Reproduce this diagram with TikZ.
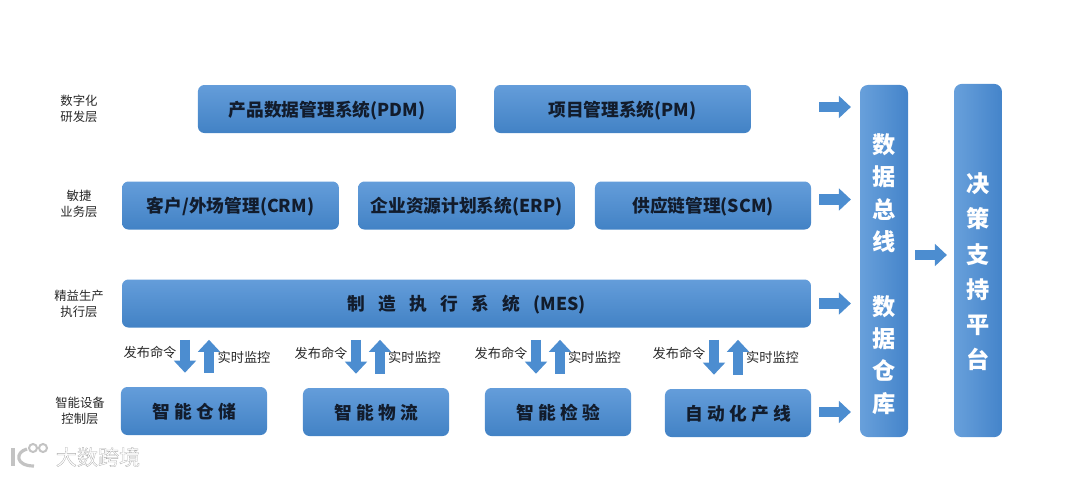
\documentclass[tikz,border=0pt]{standalone}
\usepackage{fontspec}
\setmainfont{Noto Sans CJK SC}
\newfontfamily\markfont[FakeBold=1.4]{Noto Sans CJK SC}
\usepackage{xcolor}
\usepackage{tikz}
\usetikzlibrary{arrows.meta,positioning,calc}
\definecolor{boxtop}{RGB}{100,157,218}
\definecolor{boxbot}{RGB}{66,130,197}
\definecolor{busleft}{RGB}{104,160,219}
\definecolor{busright}{RGB}{68,132,202}
\definecolor{flowblue}{RGB}{76,141,208}
\definecolor{inkblack}{RGB}{18,28,44}
\definecolor{labelgray}{RGB}{40,40,40}
\definecolor{markgray}{RGB}{195,195,195}

\begin{document}
\begin{tikzpicture}[x=0.025cm, y=-0.025cm,
        sysbox/.style={rectangle, rounded corners=0.16cm, inner sep=0pt, top color=boxtop, bottom color=boxbot, minimum height=1.2cm, text height=0.41cm, text depth=0.05cm, align=center, text=inkblack, font=\fontsize{12.6}{15}\selectfont\bfseries},
        busbox/.style={rectangle, rounded corners=0.2cm, inner sep=0pt, left color=busleft, right color=busright, minimum width=1.2cm, align=center, text=white, font=\fontsize{16.5}{23}\selectfont\bfseries},
        layer/.style={align=center, inner sep=0pt, text=labelgray, font=\fontsize{8.8}{11.3}\selectfont},
        tag/.style={inner sep=0pt, text=labelgray, font=\fontsize{9.4}{11}\selectfont},
        flow/.style={draw=flowblue, line width=0.27cm, -{Triangle[length=0.3cm, width=0.54cm]}}]

        \useasboundingbox (0,0) rectangle (1080,476);

        % Nodes
        \node[layer] (lay1) at (79,109) {数字化\\研发层};
        \node[layer] (lay2) at (79,204) {敏捷\\业务层};
        \node[layer] (lay3) at (79,304) {精益生产\\执行层};
        \node[layer] (lay4) at (80,411) {智能设备\\控制层};

        \node[sysbox, minimum width=6.45cm] (pdm) at (327,109) {产品数据管理系统(PDM)};
        \node[sysbox, minimum width=6.42cm] (pm) at (622.5,109) {项目管理系统(PM)};
        \node[sysbox, minimum width=5.42cm] (crm) at (230.5,205.5) {客户/外场管理(CRM)};
        \node[sysbox, minimum width=5.42cm] (erp) at (466.5,205.5) {企业资源计划系统(ERP)};
        \node[sysbox, minimum width=5.4cm] (scm) at (703,205.5) {供应链管理(SCM)};
        \node[sysbox, minimum width=17.22cm] (mes) at (466.5,303.5) {制\hspace{0.75em}造\hspace{0.75em}执\hspace{0.75em}行\hspace{0.75em}系\hspace{0.75em}统\hspace{0.75em}(MES)};
        \node[sysbox, minimum width=3.65cm] (store) at (194,411) {智\hspace{0.24em}能\hspace{0.24em}仓\hspace{0.24em}储};
        \node[sysbox, minimum width=3.65cm] (logi) at (376,412) {智\hspace{0.24em}能\hspace{0.24em}物\hspace{0.24em}流};
        \node[sysbox, minimum width=3.65cm] (check) at (558,412) {智\hspace{0.24em}能\hspace{0.24em}检\hspace{0.24em}验};
        \node[sysbox, minimum width=3.65cm] (line) at (738,413) {自\hspace{0.24em}动\hspace{0.24em}化\hspace{0.24em}产\hspace{0.24em}线};

        \node[busbox, minimum height=8.8cm] (bus) at (884,261) {\mbox{}\\[0.34cm]数\\据\\总\\线\\ \\数\\据\\仓\\库};
        \node[busbox, minimum height=8.83cm, font=\fontsize{16.5}{25}\selectfont\bfseries] (dss) at (978,260.5) {\mbox{}\\[0.18cm]决\\策\\支\\持\\平\\台};

        \node[tag] (cmd1) at (150,352) {发布命令};
        \node[tag] (mon1) at (244,357) {实时监控};
        \node[tag] (cmd2) at (321,353) {发布命令};
        \node[tag] (mon2) at (414.5,357) {实时监控};
        \node[tag] (cmd3) at (501,353) {发布命令};
        \node[tag] (mon3) at (594.5,357) {实时监控};
        \node[tag] (cmd4) at (679,353) {发布命令};
        \node[tag] (mon4) at (772.5,357) {实时监控};

        % Watermark
        \node[inner sep=0pt, text=white, font=\fontsize{15}{15}\selectfont\markfont] (mark) at (98,457) {\special{pdf:code 0.68 G}大数跨境};
        \draw[markgray, line width=0.08cm] (13,448) -- (13,466);
        \draw[markgray, line width=0.08cm] (27,449) .. controls (15,452) and (15,466) .. (34,466);
        \draw[markgray, line width=0.05cm] (33,448) circle (4);
        \draw[markgray, line width=0.05cm] (43,448) circle (4);

        % Connections
        \draw[flow, shorten <=1.7cm, shorten >=0.22cm] ($(pm.east)+(0,-2)$) -- ($(pm.east -| bus.west)+(0,-2)$);
        \draw[flow, shorten <=0.2cm, shorten >=0.22cm] ($(scm.east)+(0,-6)$) -- ($(scm.east -| bus.west)+(0,-6)$);
        \draw[flow, shorten <=0.2cm, shorten >=0.22cm] (mes.east) -- (mes.east -| bus.west);
        \draw[flow, shorten <=0.2cm, shorten >=0.22cm] ($(line.east)+(0,-1)$) -- ($(line.east -| bus.west)+(0,-1)$);
        \draw[flow, shorten <=0.17cm, shorten >=0.17cm] ($(bus.east)+(0,-6)$) -- ($(dss.west)+(0,-5.5)$);

        \foreach \boxname/\dn/\up in {store/185/209, logi/356/380, check/536/560, line/714/738} {
            \draw[flow, shorten <=0.3cm, shorten >=0.35cm] (mes.south -| \dn,0) -- (\boxname.north -| \dn,0);
            \draw[flow, shorten <=0.35cm, shorten >=0.3cm] (\boxname.north -| \up,0) -- (mes.south -| \up,0);
        }

    \end{tikzpicture}
\end{document}
